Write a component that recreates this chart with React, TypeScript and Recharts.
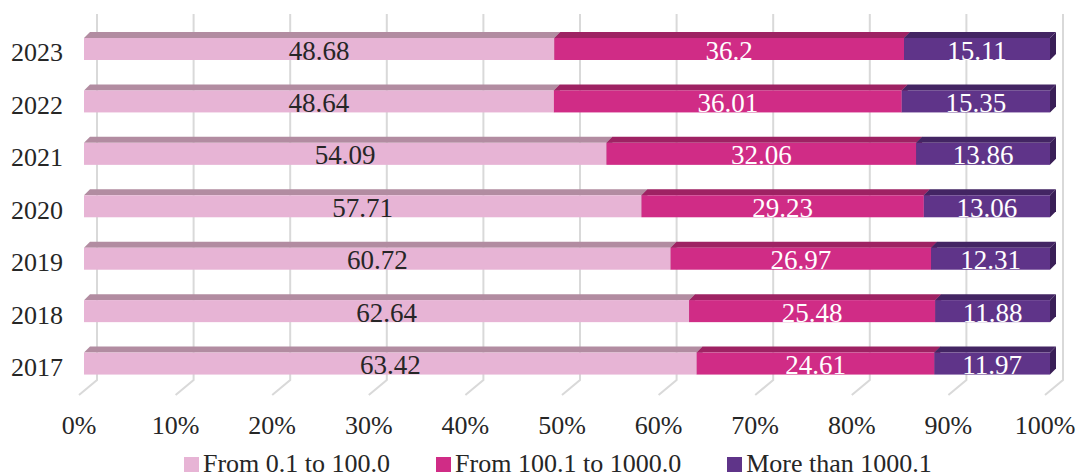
import React from "react";
import {
  BarChart,
  Bar,
  XAxis,
  YAxis,
  CartesianGrid,
  Legend,
  LabelList,
} from "recharts";

const years = ["2023", "2022", "2021", "2020", "2019", "2018", "2017"];
const small = [48.68, 48.64, 54.09, 57.71, 60.72, 62.64, 63.42];
const medium = [36.2, 36.01, 32.06, 29.23, 26.97, 25.48, 24.61];
const large = [15.11, 15.35, 13.86, 13.06, 12.31, 11.88, 11.97];
const ticks = [0, 0.1, 0.2, 0.3, 0.4, 0.5, 0.6, 0.7, 0.8, 0.9, 1];

const data = years.map((year, i) => ({
  year,
  small: small[i],
  medium: medium[i],
  large: large[i],
}));

const FONT = "'Liberation Serif', 'Times New Roman', serif";
const DEPTH = 6;

const series = [
  { key: "small", name: "From 0.1 to 100.0", fill: "#e7b4d5", top: "#b28ca1", side: "#a07a8f", label: "#262626" },
  { key: "medium", name: "From 100.1 to 1000.0", fill: "#d02c86", top: "#9e2263", side: "#8c1d58", label: "#ffffff" },
  { key: "large", name: "More than 1000.1", fill: "#5f3489", top: "#432563", side: "#3a1f57", label: "#ffffff" },
];

// front face plus a shallow top and right face for the 3D look
function boxShape(top: string, side: string) {
  return (props: any) => {
    const { x, y, width, height, fill } = props;
    if (!width || width <= 0) return <g />;
    const d = DEPTH;
    return (
      <g>
        <path
          d={`M${x},${y} L${x + d},${y - d} L${x + width + d},${y - d} L${x + width},${y} Z`}
          fill={top}
        />
        <path
          d={`M${x + width},${y} L${x + width + d},${y - d} L${x + width + d},${y + height - d} L${x + width},${y + height} Z`}
          fill={side}
        />
        <rect x={x} y={y} width={width} height={height} fill={fill} />
      </g>
    );
  };
}

// back-wall gridline bent onto the floor
const gridLine = (props: any) => {
  const { x1, y1, y2, key } = props;
  return (
    <path
      key={key}
      d={`M${x1 + 13},${y1 - 9} L${x1 + 13},${y2 - 10} L${x1 - 5},${y2 + 5}`}
      stroke="#d9d9d9"
      strokeWidth={2}
      fill="none"
    />
  );
};

const renderLegend = () => (
  <div
    style={{
      display: "flex",
      justifyContent: "flex-start",
      gap: 46,
      height: 24,
      lineHeight: "22px",
      alignItems: "center",
      fontFamily: FONT,
      fontSize: 26,
      color: "#262626",
      paddingLeft: 184,
      whiteSpace: "nowrap",
    }}
  >
    {series.map((s) => (
      <span key={s.key} style={{ display: "flex", alignItems: "center" }}>
        <span style={{ width: 15, height: 15, background: s.fill, marginRight: 4, display: "inline-block" }} />
        {s.name}
      </span>
    ))}
  </div>
);

export default function App() {
  return (
    <div style={{ position: "absolute", left: 0, top: 0, background: "#fff" }}>
      <BarChart
        width={1078}
        height={476}
        data={data}
        layout="vertical"
        stackOffset="expand"
        barSize={22}
        margin={{ top: 23, right: 28, left: 0, bottom: 0 }}
      >
        <CartesianGrid horizontal={false} vertical={gridLine} />
        <XAxis
          type="number"
          domain={[0, 1]}
          ticks={ticks}
          tickFormatter={(v: number) => `${Math.round(v * 100)}%`}
          axisLine={false}
          tickLine={false}
          height={62}
          tickMargin={20}
          dx={-5}
          tick={{ fontFamily: FONT, fontSize: 26, fill: "#262626" }}
          interval={0}
        />
        <YAxis
          type="category"
          dataKey="year"
          width={84}
          axisLine={false}
          tickLine={false}
          tickMargin={15}
          dy={3}
          tick={{ fontFamily: FONT, fontSize: 26, fill: "#262626" }}
        />
        <Legend verticalAlign="bottom" content={renderLegend} />
        {series.map((s) => (
          <Bar
            key={s.key}
            dataKey={s.key}
            name={s.name}
            stackId="a"
            fill={s.fill}
            shape={boxShape(s.top, s.side)}
            isAnimationActive={false}
          >
            <LabelList
              dataKey={s.key}
              position="center"
              fill={s.label}
              dy={1}
              style={{ fontFamily: FONT, fontSize: 27 }}
            />
          </Bar>
        ))}
      </BarChart>
    </div>
  );
}
